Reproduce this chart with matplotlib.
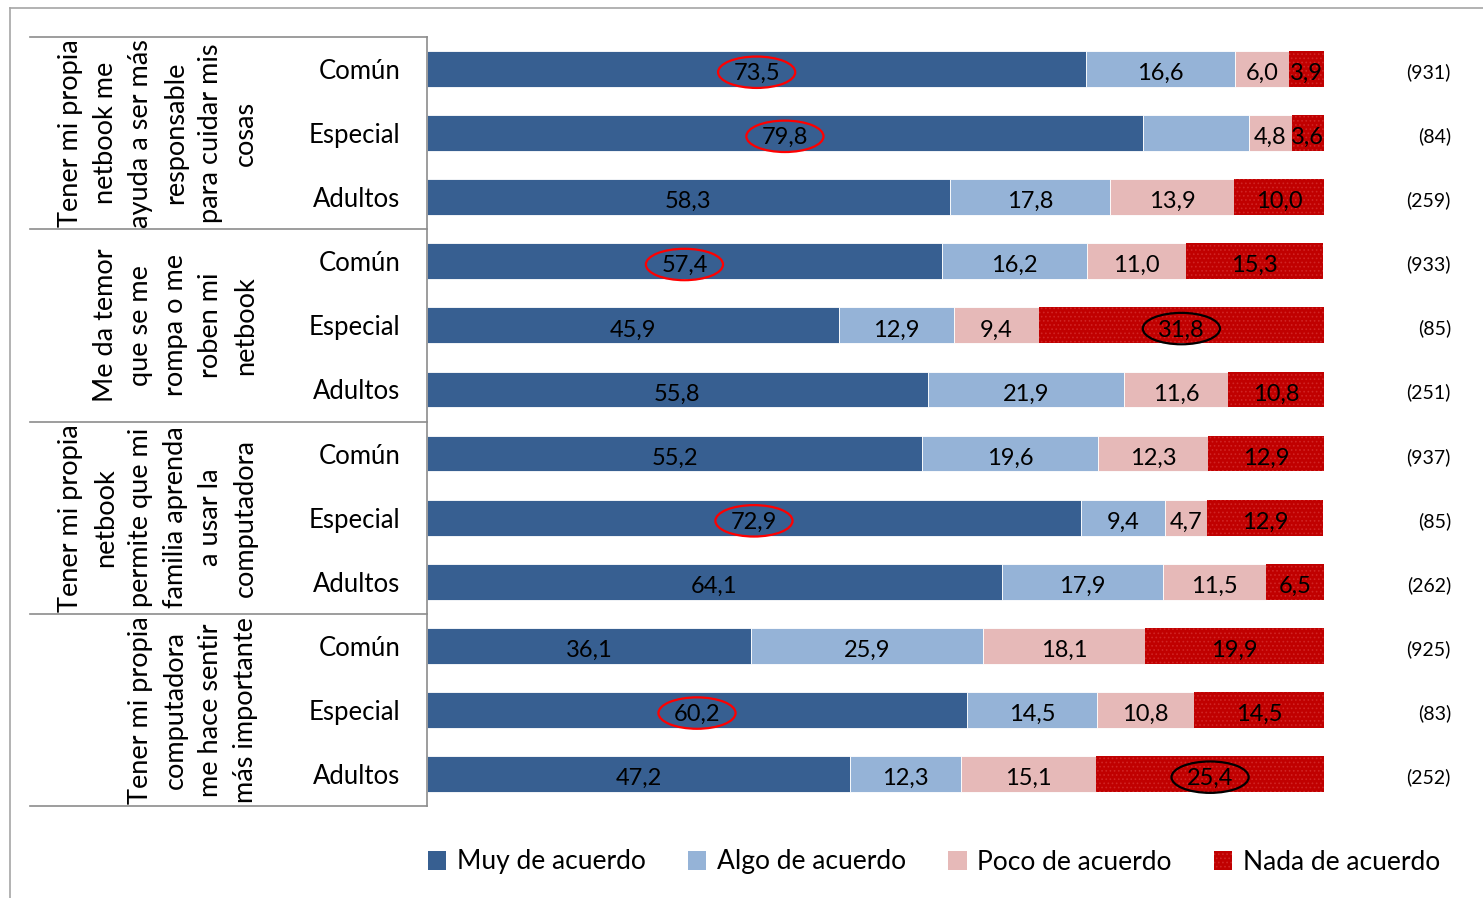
import matplotlib
matplotlib.use('Agg')
import matplotlib.pyplot as plt
from matplotlib.patches import Ellipse, Patch
from matplotlib.lines import Line2D

plt.rcParams['font.family'] = ['Lato', 'DejaVu Sans']
plt.rcParams['hatch.linewidth'] = 0.7

groups = [
    'Tener mi propia\nnetbook me\nayuda a ser más\nresponsable\npara cuidar mis\ncosas',
    'Me da temor\nque se me\nrompa o me\nroben mi\nnetbook',
    'Tener mi propia\nnetbook\npermite que mi\nfamilia aprenda\na usar la\ncomputadora',
    'Tener mi propia\ncomputadora\nme hace sentir\nmás importante',
]
categories = ['Común', 'Especial', 'Adultos'] * 4
series = ['Muy de acuerdo', 'Algo de acuerdo', 'Poco de acuerdo', 'Nada de acuerdo']

muy = [73.5, 79.8, 58.3, 57.4, 45.9, 55.8, 55.2, 72.9, 64.1, 36.1, 60.2, 47.2]
algo = [16.6, 11.8, 17.8, 16.2, 12.9, 21.9, 19.6, 9.4, 17.9, 25.9, 14.5, 12.3]
poco = [6.0, 4.8, 13.9, 11.0, 9.4, 11.6, 12.3, 4.7, 11.5, 18.1, 10.8, 15.1]
nada = [3.9, 3.6, 10.0, 15.3, 31.8, 10.8, 12.9, 12.9, 6.5, 19.9, 14.5, 25.4]
counts = ['(931)', '(84)', '(259)', '(933)', '(85)', '(251)',
          '(937)', '(85)', '(262)', '(925)', '(83)', '(252)']

# values without a printed label: (row, series index)
unlabeled = [(1, 1)]
# circled values: (row, series index, colour)
circled = [(0, 0, 'red'), (1, 0, 'red'), (3, 0, 'red'), (7, 0, 'red'),
           (10, 0, 'red'), (4, 3, 'black'), (11, 3, 'black')]

colors = ['#375F91', '#95B3D7', '#E6B9B8', '#C00000']
hatch_col = '#D02424'

W, H = 1483, 898
fig = plt.figure(figsize=(W / 100, H / 100), dpi=100)
ax = fig.add_axes([427 / W, 1 - 806 / H, 897 / W, 769 / H])

rows = list(range(len(categories)))
left = [0.0] * len(rows)
data = [muy, algo, poco, nada]
for k, vals in enumerate(data):
    if k == 3:
        ax.barh(rows, vals, left=left, height=0.56, color=colors[k],
                edgecolor=hatch_col, linewidth=0, hatch='....')
    else:
        ax.barh(rows, vals, left=left, height=0.56, color=colors[k],
                edgecolor='white', linewidth=0.6)
    for i, v in enumerate(vals):
        cx = left[i] + v / 2
        if (i, k) not in unlabeled:
            ax.text(cx, i + 0.07, f'{v:.1f}'.replace('.', ','), ha='center',
                    va='center', fontsize=17, color='black')
        for (r, s, c) in circled:
            if r == i and s == k:
                ax.add_patch(Ellipse((cx, i + 0.05), 8.6, 0.49, fill=False,
                                     edgecolor=c, linewidth=1.6, zorder=5))
    left = [a + b for a, b in zip(left, vals)]

ax.set_xlim(0, 100)
ax.set_ylim(11.5, -0.5)
ax.set_xticks([])
ax.set_yticks(rows)
ax.set_yticklabels(categories, fontsize=18.5)
ax.tick_params(axis='y', length=0, pad=19)
for s in ['top', 'right', 'bottom']:
    ax.spines[s].set_visible(False)
ax.spines['left'].set_color('#8C8C8C')
ax.spines['left'].set_linewidth(1.2)

# group separators
ytr = ax.get_yaxis_transform()
x0 = (30 - 427) / 897
for yb in [-0.5, 2.5, 5.5, 8.5, 11.5]:
    ax.plot([x0, 0], [yb, yb], transform=ytr, clip_on=False,
            color='#8C8C8C', linewidth=1.2)

# group labels
for g, txt in enumerate(groups):
    ax.text((258 - 427) / 897, 3 * g + 1, txt, transform=ytr, rotation=90,
            ha='right', va='center', multialignment='center',
            fontsize=19.5, linespacing=1.5)

# respondent counts
for i, c in enumerate(counts):
    ax.text((1451 - 427) / 897, i + 0.05, c, transform=ytr, ha='right',
            va='center', fontsize=14)

# outer frame
fig.add_artist(Line2D([10 / W, 10 / W], [0, 1 - 8 / H], color='#A6A6A6',
                      linewidth=1.2))
fig.add_artist(Line2D([10 / W, 1], [1 - 8 / H, 1 - 8 / H], color='#A6A6A6',
                      linewidth=1.2))

handles = [Patch(facecolor=colors[0]), Patch(facecolor=colors[1]),
           Patch(facecolor=colors[2]),
           Patch(facecolor=colors[3], edgecolor=hatch_col, linewidth=0,
                 hatch='....')]
fig.legend(handles, series, loc='center', bbox_to_anchor=(934 / W, 1 - 862 / H),
           ncol=4, frameon=False, fontsize=19, handlelength=0.7,
           handleheight=0.7, handletextpad=0.4, columnspacing=1.6)

fig.savefig('out.png', dpi=100)
